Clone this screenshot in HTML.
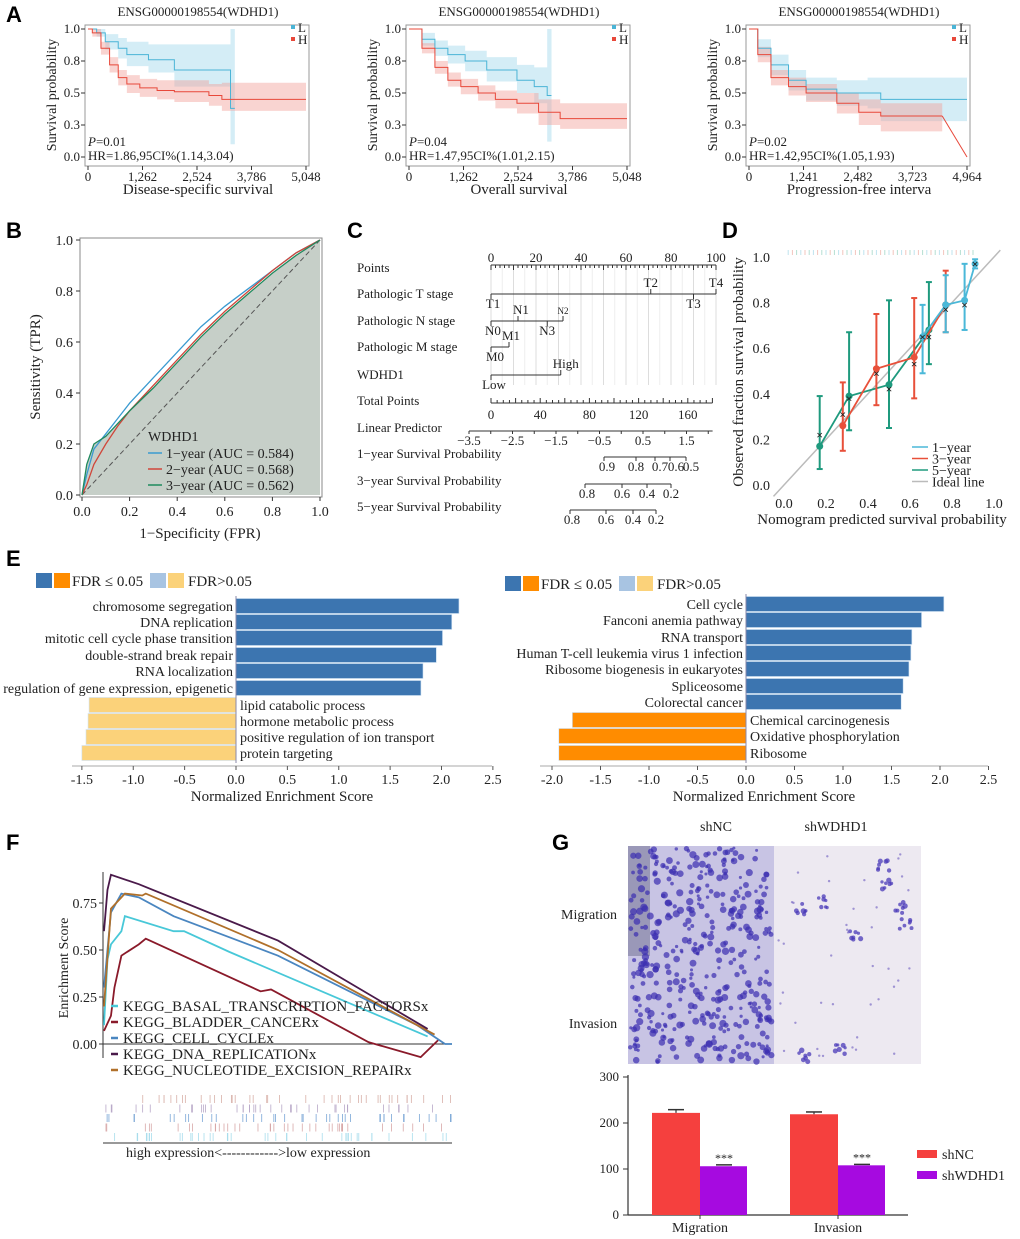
<!DOCTYPE html>
<html><head><meta charset="utf-8"><style>
body{margin:0;background:#fff}
svg{display:block}
text{font-family:"Liberation Serif",serif;fill:#222}
.lt{font-family:"Liberation Sans",sans-serif;font-weight:bold;font-size:22px;fill:#000}
</style></head><body>
<svg id="fig" width="1020" height="1239" viewBox="0 0 1020 1239" xmlns="http://www.w3.org/2000/svg">
<text class="lt" x="6" y="22">A</text>
<text class="lt" x="6" y="238">B</text>
<text class="lt" x="347" y="238">C</text>
<text class="lt" x="722" y="238">D</text>
<text class="lt" x="6" y="566">E</text>
<text class="lt" x="6" y="850">F</text>
<text class="lt" x="552" y="850">G</text>
</svg>
<script>
// ---------- DATA ----------
const km1Lt=[0,200,400,700,900,1400,2000,3000,3300];
const km1Ls=[1,0.97,0.9,0.85,0.8,0.76,0.68,0.68,0.38];
const km1Llo=[1,0.94,0.84,0.77,0.71,0.66,0.55,0.55,0.1];
const km1Lhi=[1,1,0.96,0.93,0.9,0.88,0.88,0.88,1.0];
const km1Ht=[0,100,300,500,700,900,1200,1600,2000,2800,3100];
const km1Hs=[1,0.97,0.85,0.72,0.62,0.57,0.54,0.52,0.51,0.48,0.45];
const km1Hlo=[1,0.94,0.8,0.66,0.56,0.5,0.47,0.45,0.43,0.4,0.36];
const km1Hhi=[1,1,0.9,0.78,0.68,0.64,0.61,0.6,0.6,0.57,0.58];
const km1End=[3400,5048];
const km2Lt=[0,300,600,900,1300,1800,2500,2900,3200];
const km2Ls=[1,0.92,0.85,0.8,0.75,0.68,0.6,0.55,0.48];
const km2Llo=[1,0.87,0.79,0.73,0.67,0.59,0.5,0.42,0.12];
const km2Lhi=[1,0.97,0.91,0.87,0.83,0.78,0.72,0.7,1.0];
const km2Ht=[0,300,600,900,1200,1600,2000,2500,3000,3500];
const km2Hs=[1,0.85,0.7,0.6,0.55,0.5,0.45,0.42,0.35,0.3];
const km2Hlo=[1,0.81,0.65,0.55,0.49,0.44,0.38,0.34,0.25,0.22];
const km2Hhi=[1,0.89,0.75,0.66,0.61,0.56,0.52,0.5,0.45,0.42];
const km2End=[3300,5048];
const km3Lt=[0,200,500,900,1300,2000,2700,3000];
const km3Ls=[1,0.85,0.72,0.6,0.53,0.5,0.5,0.45];
const km3Llo=[1,0.78,0.64,0.52,0.44,0.4,0.38,0.28];
const km3Lhi=[1,0.92,0.8,0.68,0.62,0.6,0.62,0.62];
const km3Ht=[0,200,500,900,1300,2000,2500,3000];
const km3Hs=[1,0.8,0.62,0.55,0.5,0.42,0.35,0.32];
const km3Hlo=[1,0.74,0.56,0.48,0.43,0.34,0.25,0.2];
const km3Hhi=[1,0.86,0.68,0.62,0.57,0.5,0.45,0.42];
const km3End=[4964,4400];
const kmXticks1=[0,1262,2524,3786,5048];
const kmXticks3=[0,1241,2482,3723,4964];
const kmYticks=[1.0,0.75,0.5,0.25,0.0];
const kmYlabels=['1.0','0.8','0.5','0.3','0.0'];
const roc1x=[0,0.02,0.05,0.1,0.15,0.2,0.3,0.4,0.5,0.6,0.7,0.8,0.9,1];
const roc1y=[0,0.08,0.18,0.24,0.3,0.36,0.46,0.56,0.66,0.74,0.81,0.88,0.95,1];
const roc2x=[0,0.02,0.05,0.1,0.15,0.2,0.3,0.4,0.5,0.6,0.7,0.8,0.9,1];
const roc2y=[0,0.04,0.12,0.2,0.27,0.33,0.43,0.53,0.63,0.72,0.8,0.88,0.95,1];
const roc3x=[0,0.02,0.05,0.1,0.15,0.2,0.3,0.4,0.5,0.6,0.7,0.8,0.9,1];
const roc3y=[0,0.12,0.2,0.23,0.28,0.33,0.42,0.52,0.62,0.71,0.79,0.87,0.94,1];
const rocTicks=[0,0.2,0.4,0.6,0.8,1.0];
const cal1x=[0.66,0.77,0.86,0.91], cal1y=[0.65,0.79,0.81,0.97], cal1lo=[0.49,0.67,0.68,0.95], cal1hi=[0.79,0.92,0.97,0.99];
const cal3x=[0.28,0.44,0.62,0.77], cal3y=[0.26,0.51,0.56,0.79], cal3lo=[0.15,0.35,0.38,0.67], cal3hi=[0.45,0.75,0.82,0.94];
const cal5x=[0.17,0.31,0.5,0.69], cal5y=[0.17,0.39,0.44,0.68], cal5lo=[0.07,0.24,0.25,0.53], cal5hi=[0.39,0.67,0.81,0.89];
const calMx=[0.17,0.28,0.31,0.44,0.5,0.62,0.66,0.69,0.77,0.86,0.91];
const calMy=[0.22,0.31,0.38,0.49,0.42,0.53,0.65,0.65,0.77,0.79,0.97];
const calTicks=[0,0.2,0.4,0.6,0.8,1.0];
const eLcats=['chromosome segregation','DNA replication','mitotic cell cycle phase transition','double-strand break repair','RNA localization','regulation of gene expression, epigenetic','lipid catabolic process','hormone metabolic process','positive regulation of ion transport','protein targeting'];
const eLvals=[2.17,2.1,2.01,1.95,1.82,1.8,-1.43,-1.44,-1.46,-1.5];
const eLsig=[1,1,1,1,1,1,0,0,0,0];
const eLticks=[-1.5,-1.0,-0.5,0.0,0.5,1.0,1.5,2.0,2.5];
const eRcats=['Cell cycle','Fanconi anemia pathway','RNA transport','Human T-cell leukemia virus 1 infection','Ribosome biogenesis in eukaryotes','Spliceosome','Colorectal cancer','Chemical carcinogenesis','Oxidative phosphorylation','Ribosome'];
const eRvals=[2.04,1.81,1.71,1.7,1.68,1.62,1.6,-1.79,-1.93,-1.93];
const eRsig=[1,1,1,1,1,1,1,1,1,1];
const eRticks=[-2.0,-1.5,-1.0,-0.5,0.0,0.5,1.0,1.5,2.0,2.5];
const gNames=['KEGG_BASAL_TRANSCRIPTION_FACTORSx','KEGG_BLADDER_CANCERx','KEGG_CELL_CYCLEx','KEGG_DNA_REPLICATIONx','KEGG_NUCLEOTIDE_EXCISION_REPAIRx'];
const gBasalX=[0,0.01,0.02,0.05,0.06,0.2,0.23,0.36,0.6,0.93], gBasalY=[0.1,0.45,0.53,0.6,0.68,0.6,0.6,0.49,0.3,0.04];
const gBladX=[0,0.02,0.03,0.05,0.1,0.12,0.45,0.48,0.76,0.91,0.96], gBladY=[0.07,0.15,0.3,0.47,0.53,0.56,0.28,0.29,0.01,-0.07,0.02];
const gCellX=[0,0.02,0.05,0.1,0.2,0.5,0.9,0.98,1], gCellY=[0.3,0.7,0.8,0.78,0.68,0.47,0.1,0.0,0.0];
const gDnaX=[0,0.01,0.02,0.1,0.5,0.93], gDnaY=[0.6,0.82,0.9,0.85,0.55,0.08];
const gNerX=[0,0.02,0.06,0.11,0.12,0.5,0.95], gNerY=[0.2,0.72,0.8,0.79,0.8,0.5,0.05];
const gTicks=[0,0.25,0.5,0.75];
const gCats=['Migration','Invasion'];
const gShNC=[222,219], gShNCerr=[7,5];
const gShW=[106,108], gShWerr=[3,2];
const gBarTicks=[0,100,200,300];

// ---------- HELPERS ----------
const svg=document.getElementById('fig');
const NS='http://www.w3.org/2000/svg';
function mk(tag,attrs,name,parent){
  const el=document.createElementNS(NS,tag);
  for(const k in attrs) el.setAttribute(k,attrs[k]);
  
  
  (parent||svg).appendChild(el);
  return el;
}
function txt(x,y,s,size,name,extra){
  const a=Object.assign({x:x,y:y,'font-size':size},extra||{});
  const t=mk('text',a,name);
  t.textContent=s;return t;
}
function line(x1,y1,x2,y2,stroke,w,name,extra){
  return mk('line',Object.assign({x1:x1,y1:y1,x2:x2,y2:y2,stroke:stroke,'stroke-width':w},extra||{}),name);
}
function poly(xs,ys,X,Y){return xs.map((v,i)=>X(v)+','+Y(ys[i])).join(' ');}
let seed=12345;
function rnd(){seed=(seed*1103515245+12345)%2147483648;return seed/2147483648;}

// ---------- PANEL A ----------
function stepD(ts,vs,tEnd,X,Y){
  let d='M'+X(ts[0])+' '+Y(vs[0]);
  for(let i=1;i<ts.length;i++) d+=' H'+X(ts[i])+' V'+Y(vs[i]);
  return d+' H'+X(tEnd);
}
function bandD(ts,lo,hi,tEnd,X,Y){
  let d='M'+X(ts[0])+' '+Y(hi[0]);
  for(let i=1;i<ts.length;i++) d+=' H'+X(ts[i])+' V'+Y(hi[i]);
  d+=' H'+X(tEnd)+' V'+Y(lo[lo.length-1]);
  for(let i=ts.length-1;i>0;i--) d+=' H'+X(ts[i])+' V'+Y(lo[i-1]);
  return d+' H'+X(ts[0])+' Z';
}
function km(ox,xmax,ticks,L,H,ends,xlabel,p,hr){
  const x0=ox, x1=ox+218;
  const X=v=>x0+v/xmax*(x1-x0);
  const Y=v=>157-v*128;
  mk('rect',{x:ox-3,y:25,width:224,height:141,fill:'none',stroke:'#999','stroke-width':1},'km-frame');
  txt(ox+110,16,'ENSG00000198554(WDHD1)',13,'km-title',{'text-anchor':'middle'});
  mk('path',{d:bandD(L[0],L[2],L[3],ends[0],X,Y),fill:'#9fd8ec','fill-opacity':0.45},'km-band-low');
  mk('path',{d:bandD(H[0],H[2],H[3],ends[1],X,Y),fill:'#f2a09a','fill-opacity':0.45},'km-band-high');
  mk('path',{d:stepD(L[0],L[1],ends[0],X,Y),fill:'none',stroke:'#4ab4d6','stroke-width':1},'km-line-low');
  mk('path',{d:stepD(H[0],H[1],ends[1],X,Y),fill:'none',stroke:'#e8483a','stroke-width':1},'km-line-high');
  ticks.forEach((t,i)=>{line(X(t),166,X(t),170,'#333',1,'km-xtick');txt(X(t),181,t.toLocaleString('en-US'),13,'km-xtick-label',{'text-anchor':'middle'});});
  kmYticks.forEach((t,i)=>{line(ox-7,Y(t),ox-3,Y(t),'#333',1,'km-ytick');txt(ox-8,Y(t)+4,kmYlabels[i],13,'km-ytick-label',{'text-anchor':'end'});});
  txt(ox+110,194,xlabel,15,'km-x-title',{'text-anchor':'middle'});
  txt(ox-32,95,'Survival probability',14,'km-y-title',{'text-anchor':'middle',transform:'rotate(-90 '+(ox-32)+' 95)'});
  const pt=txt(ox,146,'',13,'km-p-value');pt.innerHTML='<tspan font-style="italic">P</tspan>=' + p;
  txt(ox,160,hr,13,'km-hr');
  mk('rect',{x:ox+203,y:25,width:4,height:4,fill:'#4ab4d6'},'km-legend-l-swatch');
  txt(ox+210,32,'L',13,'km-legend-l',{fill:'#4ab4d6'});
  mk('rect',{x:ox+203,y:37,width:4,height:4,fill:'#e8483a'},'km-legend-h-swatch');
  txt(ox+210,44,'H',13,'km-legend-h',{fill:'#e8483a'});
}
km(88,5048,kmXticks1,[km1Lt,km1Ls,km1Llo,km1Lhi],[km1Ht,km1Hs,km1Hlo,km1Hhi],km1End,'Disease-specific survival','0.01','HR=1.86,95CI%(1.14,3.04)');
km(409,5048,kmXticks1,[km2Lt,km2Ls,km2Llo,km2Lhi],[km2Ht,km2Hs,km2Hlo,km2Hhi],km2End,'Overall survival','0.04','HR=1.47,95CI%(1.01,2.15)');
km(749,4964,kmXticks3,[km3Lt,km3Ls,km3Llo,km3Lhi],[km3Ht,km3Hs,km3Hlo,km3Hhi],km3End,'Progression-free interva','0.02','HR=1.42,95CI%(1.05,1.93)');
(function(){const X=v=>749+v/4964*218,Y=v=>157-v*128;line(X(4400),Y(0.32),X(4964),Y(0),'#e8483a',1,'km-line-high-tail');})();

// ---------- PANEL B ----------
(function(){
  const X=v=>82+v*238, Y=v=>495-v*255;
  mk('rect',{x:80,y:238,width:242,height:259,fill:'#fff',stroke:'#888'},'roc-frame');
  mk('polygon',{points:poly(roc3x,roc3y,X,Y)+' '+X(1)+','+Y(0),fill:'#c6cfc8'},'roc-area');
  line(X(0),Y(0),X(1),Y(1),'#555',1,'roc-diagonal',{'stroke-dasharray':'5,3'});
  [[roc1x,roc1y,'#3a9ad0','roc-1year'],[roc2x,roc2y,'#d0463a','roc-2year'],[roc3x,roc3y,'#1f8a5e','roc-3year']].forEach(s=>{
    mk('polyline',{points:poly(s[0],s[1],X,Y),fill:'none',stroke:s[2],'stroke-width':1.3},s[3]);
  });
  rocTicks.forEach(t=>{
    line(X(t),497,X(t),501,'#333',1,'roc-xtick');
    txt(X(t),516,t.toFixed(1),14,'roc-xtick-label',{'text-anchor':'middle'});
    line(76,Y(t),80,Y(t),'#333',1,'roc-ytick');
    txt(73,Y(t)+5,t.toFixed(1),14,'roc-ytick-label',{'text-anchor':'end'});
  });
  txt(200,538,'1−Specificity (FPR)',15,'roc-x-title',{'text-anchor':'middle'});
  txt(40,367,'Sensitivity (TPR)',15,'roc-y-title',{'text-anchor':'middle',transform:'rotate(-90 40 367)'});
  txt(148,441,'WDHD1',14,'roc-legend-title');
  [['1−year (AUC = 0.584)','#3a9ad0'],['2−year (AUC = 0.568)','#d0463a'],['3−year (AUC = 0.562)','#1f8a5e']].forEach((l,i)=>{
    line(148,453+i*16,162,453+i*16,l[1],1.5,'roc-legend-line');
    txt(166,458+i*16,l[0],14,'roc-legend-entry');
  });
})();

// ---------- PANEL C ----------
(function(){
  const P=v=>491+v*2.25;
  const rows=[['Points',272],['Pathologic T stage',298],['Pathologic N stage',325],['Pathologic M stage',351],['WDHD1',379],['Total Points',405],['Linear Predictor',432],['1−year Survival Probability',458],['3−year Survival Probability',485],['5−year Survival Probability',511]];
  rows.forEach(r=>txt(357,r[1],r[0],13,'nomogram-row-label'));
  for(let v=0;v<=100;v+=5) line(P(v),265,P(v),385,v%10?'#eee':'#ddd',1,'nomogram-grid');
  line(P(0),265,P(100),265,'#333',1,'points-axis');
  for(let v=0;v<=100;v+=2) line(P(v),265,P(v),v%10?268:270,'#333',1,'points-tick');
  [0,20,40,60,80,100].forEach(v=>txt(P(v),262,String(v),13,'points-label',{'text-anchor':'middle'}));
  function scale(y,a,b,ticks,name){
    line(a,y,b,y,'#333',1,name+'-line');
    ticks.forEach(t=>{line(t[0],y,t[0],t[2]?y-5:y+5,'#333',1,name+'-tick');txt(t[0]+(t[3]||0),t[2]?y-7:y+14,t[1],t[4]||13,name+'-label',{'text-anchor':'middle'});});
  }
  scale(294,P(0),P(100),[[P(0),'T1',0,2],[P(71),'T2',1],[P(90),'T3',0],[P(100),'T4',1]],'t-stage');
  scale(321,P(0),P(32),[[P(0),'N0',0,2],[P(12),'N1',1,3],[P(32),'N2',1,0,9],[P(25),'N3',0]],'n-stage');
  scale(347,P(0),P(8),[[P(0),'M0',0,4],[P(8),'M1',1,2]],'m-stage');
  scale(375,P(0),P(31),[[P(0),'Low',0,3],[P(31),'High',1,5]],'wdhd1');
  const T=v=>491+v*1.23;
  line(T(0),403,T(180),403,'#333',1,'total-points-axis');
  for(let v=0;v<=180;v+=5) line(T(v),403,T(v),v%20?400:398,'#333',1,'total-points-tick');
  [0,40,80,120,160].forEach(v=>txt(T(v),419,String(v),13,'total-points-label',{'text-anchor':'middle'}));
  const L=v=>(v+3.5)*43.5+469;
  line(L(-3.5),431,L(2.1),431,'#333',1,'linear-predictor-axis');
  for(let v=-3.5;v<=2.01;v+=0.5) line(L(v),431,L(v),434,'#333',1,'linear-predictor-tick');
  [-3.5,-2.5,-1.5,-0.5,0.5,1.5].forEach(v=>txt(L(v),445,(v<0?'−':'')+Math.abs(v),13,'linear-predictor-label',{'text-anchor':'middle'}));
  function prob(y,ticks,name){
    line(ticks[0][0],y,ticks[ticks.length-1][0],y,'#333',1,name+'-line');
    ticks.forEach(t=>{line(t[0],y,t[0],y+4,'#333',1,name+'-tick');txt(t[0]+(t[2]||0),y+14,t[1],13,name+'-label',{'text-anchor':'middle'});});
  }
  prob(457,[[604,'0.9',3],[636,'0.8'],[655,'0.7',5],[670,'0.6',6],[686,'0.5',5]],'prob-1year');
  prob(484,[[585,'0.8',2],[622,'0.6'],[647,'0.4'],[671,'0.2']],'prob-3year');
  prob(510,[[570,'0.8',2],[606,'0.6'],[633,'0.4'],[656,'0.2']],'prob-5year');
})();

// ---------- PANEL D ----------
(function(){
  const X=v=>784+v*210, Y=v=>485-v*228;
  line(X(-0.05),Y(-0.05),X(1.03),Y(1.03),'#bbb',1.5,'ideal-line');
  for(let i=0;i<45;i++){const v=0.02+i*0.02;line(X(v),250,X(v),255,['#bfe3ee','#f3c4bd','#b5dfd2'][i%3],1,'rug-tick');}
  calTicks.forEach(t=>{
    txt(X(t),508,t.toFixed(1),14,'cal-xtick-label',{'text-anchor':'middle'});
    txt(770,Y(t)+5,t.toFixed(1),14,'cal-ytick-label',{'text-anchor':'end'});
  });
  txt(882,524,'Nomogram predicted survival probability',15,'cal-x-title',{'text-anchor':'middle'});
  txt(743,372,'Observed fraction survival probability',15,'cal-y-title',{'text-anchor':'middle',transform:'rotate(-90 743 372)'});
  [[cal5x,cal5y,cal5lo,cal5hi,'#1f9a7e','cal-5year'],[cal3x,cal3y,cal3lo,cal3hi,'#e8503a','cal-3year'],[cal1x,cal1y,cal1lo,cal1hi,'#4ab8d8','cal-1year']].forEach(s=>{
    s[0].forEach((v,i)=>{
      line(X(v),Y(s[2][i]),X(v),Y(s[3][i]),s[4],2,s[5]+'-errorbar');
      line(X(v)-3,Y(s[2][i]),X(v)+3,Y(s[2][i]),s[4],2,s[5]+'-errorcap');
      line(X(v)-3,Y(s[3][i]),X(v)+3,Y(s[3][i]),s[4],2,s[5]+'-errorcap');
    });
    mk('polyline',{points:poly(s[0],s[1],X,Y),fill:'none',stroke:s[4],'stroke-width':1.8},s[5]+'-line');
    s[0].forEach((v,i)=>mk('circle',{cx:X(v),cy:Y(s[1][i]),r:3.5,fill:s[4]},s[5]+'-point'));
  });
  calMx.forEach((v,i)=>txt(X(v),Y(calMy[i])+4,'×',12,'cal-marker',{'text-anchor':'middle',fill:'#2a3fa0','font-weight':'bold'}));
  [['1−year','#4ab8d8'],['3−year','#e8503a'],['5−year','#1f9a7e'],['Ideal line','#bbb']].forEach((l,i)=>{
    line(912,447+i*11.5,928,447+i*11.5,l[1],1.5,'cal-legend-line');
    txt(932,452+i*11.5,l[0],14,'cal-legend-entry');
  });
})();

// ---------- PANEL E ----------
function enrich(zero,scale,cats,vals,sig,ticks,rowY,axisL,axisR,posCol,negCol,name){
  const X=v=>zero+v*scale;
  cats.forEach((c,i)=>{
    const v=vals[i],y=rowY[i];
    const col=v>=0?(sig[i]?posCol[0]:posCol[1]):(sig[i]?negCol[0]:negCol[1]);
    mk('rect',{x:Math.min(X(0),X(v)),y:y-7.5,width:Math.abs(X(v)-X(0)),height:15,fill:col,stroke:'#cfe2f3','stroke-width':0.6},name+'-bar');
    if(v>=0) txt(zero-3,y+5,c,14,name+'-label',{'text-anchor':'end'});
    else txt(zero+4,y+5,c,14,name+'-label');
  });
  line(zero,rowY[0]-10,zero,rowY[rowY.length-1]+10,'#88a',1,name+'-zero-line');
  line(axisL,rowY[rowY.length-1]+13,axisR,rowY[rowY.length-1]+13,'#aaa',1,name+'-x-axis');
  ticks.forEach(t=>{line(X(t),rowY[rowY.length-1]+13,X(t),rowY[rowY.length-1]+17,'#555',1,name+'-xtick');txt(X(t),rowY[rowY.length-1]+31,t.toFixed(1),14,name+'-xtick-label',{'text-anchor':'middle'});});
  txt((axisL+axisR)/2,rowY[rowY.length-1]+48,'Normalized Enrichment Score',15,name+'-x-title',{'text-anchor':'middle'});
}
enrich(236,102.75,eLcats,eLvals,eLsig,eLticks,[606,622,638,655,671,688,705,721,737,753],72,492,['#3c75b0','#a8c4e2'],['#ff8c00','#fbd27a'],'go-enrichment');
enrich(746,97,eRcats,eRvals,eRsig,eRticks,[604,620,637,653,669,686,702,720,736,753],540,988,['#3c75b0','#a8c4e2'],['#ff8c00','#fbd27a'],'kegg-enrichment');
function eLegend(x,y,name){
  mk('rect',{x:x,y:y-8,width:16,height:15,fill:'#3c75b0'},name+'-sig-blue');
  mk('rect',{x:x+18,y:y-8,width:16,height:15,fill:'#ff8c00'},name+'-sig-orange');
  txt(x+36,y+5,'FDR ≤ 0.05',15,name+'-sig-label');
  mk('rect',{x:x+114,y:y-8,width:16,height:15,fill:'#a8c4e2'},name+'-ns-blue');
  mk('rect',{x:x+132,y:y-8,width:16,height:15,fill:'#fbd27a'},name+'-ns-orange');
  txt(x+152,y+5,'FDR>0.05',15,name+'-ns-label');
}
eLegend(36,581,'go-legend');eLegend(505,584,'kegg-legend');

// ---------- PANEL F ----------
(function(){
  const X=v=>104+v*348, Y=v=>1044-v*188;
  line(103,872,103,1058,'#333',1,'gsea-y-axis');
  line(103,Y(0),452,Y(0),'#333',1,'gsea-zero-line');
  gTicks.forEach(t=>{line(99,Y(t),103,Y(t),'#333',1,'gsea-ytick');txt(97,Y(t)+5,t.toFixed(2),14,'gsea-ytick-label',{'text-anchor':'end'});});
  txt(68,968,'Enrichment Score',14,'gsea-y-title',{'text-anchor':'middle',transform:'rotate(-90 68 968)'});
  const series=[[gBladX,gBladY,'#8a1a2a'],[gBasalX,gBasalY,'#48c8d8'],[gCellX,gCellY,'#4a86c0'],[gNerX,gNerY,'#b0702a'],[gDnaX,gDnaY,'#4a1a4a']];
  series.forEach((s,i)=>mk('polyline',{points:poly(s[0],s[1],X,Y),fill:'none',stroke:s[2],'stroke-width':1.8},'gsea-curve'));
  const lc=['#48c8d8','#8a1a2a','#4a86c0','#4a1a4a','#b0702a'];
  gNames.forEach((n,i)=>{line(111,1006+i*16,118,1006+i*16,lc[i],2.5,'gsea-legend-swatch');txt(123,1011+i*16,n,15,'gsea-legend-entry');});
  const rugCols=['#d8b0a8','#b8a8c8','#7aa6d6','#d8a8a8','#a8ddec'];
  for(let r=0;r<5;r++){
    for(let k=0;k<40;k++){const f=rnd();line(X(f),1095+r*9.5,X(f),1103+r*9.5,rugCols[r],0.8,'gsea-rug-tick');}
  }
  line(103,1143,452,1143,'#333',1,'gsea-rug-axis');
  txt(126,1157,'high expression<------------>low expression',14,'gsea-bottom-label',{'font-family':'Liberation Sans, sans-serif'});
})();

// ---------- PANEL G ----------
(function(){
  txt(716,831,'shNC',14,'col-label-shnc',{'text-anchor':'middle'});
  txt(836,831,'shWDHD1',14,'col-label-shwdhd1',{'text-anchor':'middle'});
  txt(589,919,'Migration',14,'row-label-migration',{'text-anchor':'middle'});
  txt(593,1028,'Invasion',14,'row-label-invasion',{'text-anchor':'middle'});
  mk('rect',{x:628,y:846,width:146,height:218,fill:'#c8c4e4'},'image-shnc');
  mk('rect',{x:628,y:846,width:22,height:110,fill:'#9a98b8'},'image-shnc-edge');
  mk('rect',{x:774,y:846,width:147,height:218,fill:'#ede9f1'},'image-shwdhd1');
  for(let k=0;k<420;k++){const cx=630+rnd()*142,cy=848+rnd()*214;mk('circle',{cx:cx,cy:cy,r:1.5+rnd()*2.2,fill:'#3a2eb0','fill-opacity':0.7},'stained-cell');}
  for(let c=0;c<9;c++){const bx=782+rnd()*130,by=852+rnd()*205;for(let k=0;k<7;k++){mk('circle',{cx:bx+(rnd()-0.5)*12,cy:by+(rnd()-0.5)*12,r:1.6+rnd()*1.2,fill:'#4a3ab8','fill-opacity':0.75},'stained-cell');}}
  for(let k=0;k<40;k++){mk('circle',{cx:778+rnd()*140,cy:848+rnd()*214,r:1.2,fill:'#6a5ac0','fill-opacity':0.6},'stained-cell');}
  const Y=v=>1215-v*0.46;
  line(628,1075,628,1215,'#333',1.2,'bar-y-axis');
  line(628,1215,908,1215,'#333',1.2,'bar-x-axis');
  gBarTicks.forEach(t=>{line(623,Y(t),628,Y(t),'#333',1,'bar-ytick');txt(619,Y(t)+4,String(t),13,'bar-ytick-label',{'text-anchor':'end'});});
  gCats.forEach((c,i)=>{
    const x0=652+i*138;
    mk('rect',{x:x0,y:Y(gShNC[i]),width:48,height:Y(0)-Y(gShNC[i]),fill:'#f5403e'},'bar-shnc-'+c.toLowerCase());
    mk('rect',{x:x0+48,y:Y(gShW[i]),width:47,height:Y(0)-Y(gShW[i]),fill:'#a60ae0'},'bar-shwdhd1-'+c.toLowerCase());
    line(x0+24,Y(gShNC[i]),x0+24,Y(gShNC[i]+gShNCerr[i]),'#333',1.2,'errorbar-shnc');
    line(x0+16,Y(gShNC[i]+gShNCerr[i]),x0+32,Y(gShNC[i]+gShNCerr[i]),'#333',1.5,'errorcap-shnc');
    line(x0+64,Y(gShW[i]+gShWerr[i]),x0+80,Y(gShW[i]+gShWerr[i]),'#333',1.5,'errorcap-shwdhd1');
    txt(x0+72,Y(gShW[i])-4,'***',12,'significance-stars',{'text-anchor':'middle',fill:'#555'});
    line(x0+48,1215,x0+48,1219,'#333',1,'bar-xtick');
    txt(x0+48,1232,c,14,'bar-xtick-label',{'text-anchor':'middle'});
  });
  mk('rect',{x:917,y:1150,width:20,height:8,fill:'#f5403e'},'legend-shnc-swatch');
  txt(942,1159,'shNC',14,'legend-shnc');
  mk('rect',{x:917,y:1171,width:20,height:8,fill:'#a60ae0'},'legend-shwdhd1-swatch');
  txt(942,1180,'shWDHD1',14,'legend-shwdhd1');
})();
</script>
</body></html>
